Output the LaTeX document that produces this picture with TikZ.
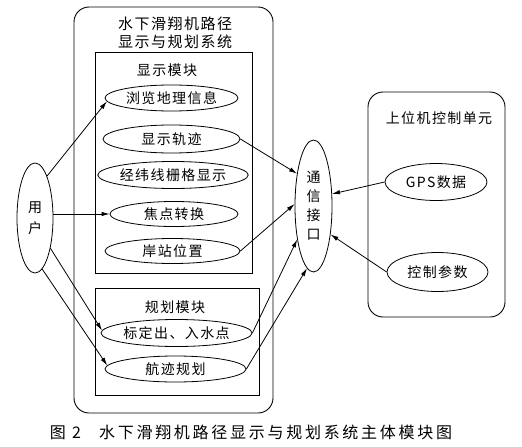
\documentclass[tikz,border=0pt]{standalone}
\usepackage{fontspec}
\newfontfamily\cjk[LetterSpace=10]{Noto Sans CJK SC}
\newfontfamily\capfont[LetterSpace=17]{Noto Sans CJK SC}
\usetikzlibrary{shapes.geometric,arrows.meta}
\begin{document}
\begin{tikzpicture}[x=1pt,y=-1pt,
  every node/.style={font=\cjk\fontsize{14pt}{18pt}\selectfont, inner sep=0pt},
  oval/.style={draw, ellipse, line width=0.8pt, inner sep=0pt},
  box/.style={draw, line width=0.9pt, inner sep=0pt},
  arr/.style={-{Latex[length=8pt,width=4.5pt]}, line width=0.8pt}]
\useasboundingbox (0,0) rectangle (522,447);
\fill[white] (0,0) rectangle (522,447);

% boxes
\node[box, rounded corners=15pt, minimum width=199pt, minimum height=406pt] (sys) at (173.5,210) {};
\node[box, minimum width=157pt, minimum height=221pt] (disp) at (173.5,162.5) {};
\node[box, minimum width=164pt, minimum height=107pt] (plan) at (177,341.5) {};
\node[box, rounded corners=15pt, minimum width=137pt, minimum height=225pt] (host) at (436.5,204.5) {};

% titles
\node (systitle) at (175,33) [align=center, font=\cjk\fontsize{15pt}{18pt}\selectfont] {水下滑翔机路径\\显示与规划系统};
\node (disptitle) at (167,70) {显示模块};
\node (plantitle) at (175,307) {规划模块};
\node (hosttitle) at (439,118) {上位机控制单元};

% ellipses
\node[oval, minimum width=133pt, minimum height=26pt] (browse) at (171.5,98) {浏览地理信息};
\node[oval, minimum width=137pt, minimum height=28pt] (track) at (171.5,139) {显示轨迹};
\node[oval, minimum width=140pt, minimum height=27pt] (grid) at (173,175) {经纬线栅格显示};
\node[oval, minimum width=128pt, minimum height=25pt] (focus) at (174,214) {焦点转换};
\node[oval, minimum width=135pt, minimum height=25pt] (shore) at (172.5,251) {岸站位置};
\node[oval, minimum width=151pt, minimum height=27pt] (calib) at (176.5,333) {标定出、入水点};
\node[oval, minimum width=141pt, minimum height=26pt] (nav) at (175.5,369) {航迹规划};
\node[oval, minimum width=36pt, minimum height=110pt, align=center] (user) at (35,218) {用\\[3pt]户};
\node[oval, minimum width=37pt, minimum height=132pt, align=center, font=\cjk\fontsize{14pt}{19pt}\selectfont] (comm) at (313.5,206) {通\\信\\接\\口};
\node[oval, minimum width=102pt, minimum height=37pt] (gps) at (436,182) {GPS数据};
\node[oval, minimum width=101pt, minimum height=39pt] (ctrl) at (437.5,272) {控制参数};

% arrows
\draw[arr] (user.74) -- (browse.183);
\draw[arr] (user.east |- focus.west) -- (focus.west);
\draw[arr] (user.-63) -- (calib.178);
\draw[arr] (user.-82) -- (nav.177);
\draw[arr] (track.east) -- (comm.117);
\draw[arr] (shore.east) -- (comm.174);
\draw[arr] (calib.east) -- (comm.244);
\draw[arr] (nav.east) -- (comm.264);
\draw[arr] (gps.west) -- (comm.33);
\draw[arr] (ctrl.west) -- (comm.-59);

% caption
\node (caption) at (251,432) [font=\capfont\fontsize{16pt}{18pt}\selectfont] {图 2\hspace{18pt}水下滑翔机路径显示与规划系统主体模块图};
\end{tikzpicture}
\end{document}
